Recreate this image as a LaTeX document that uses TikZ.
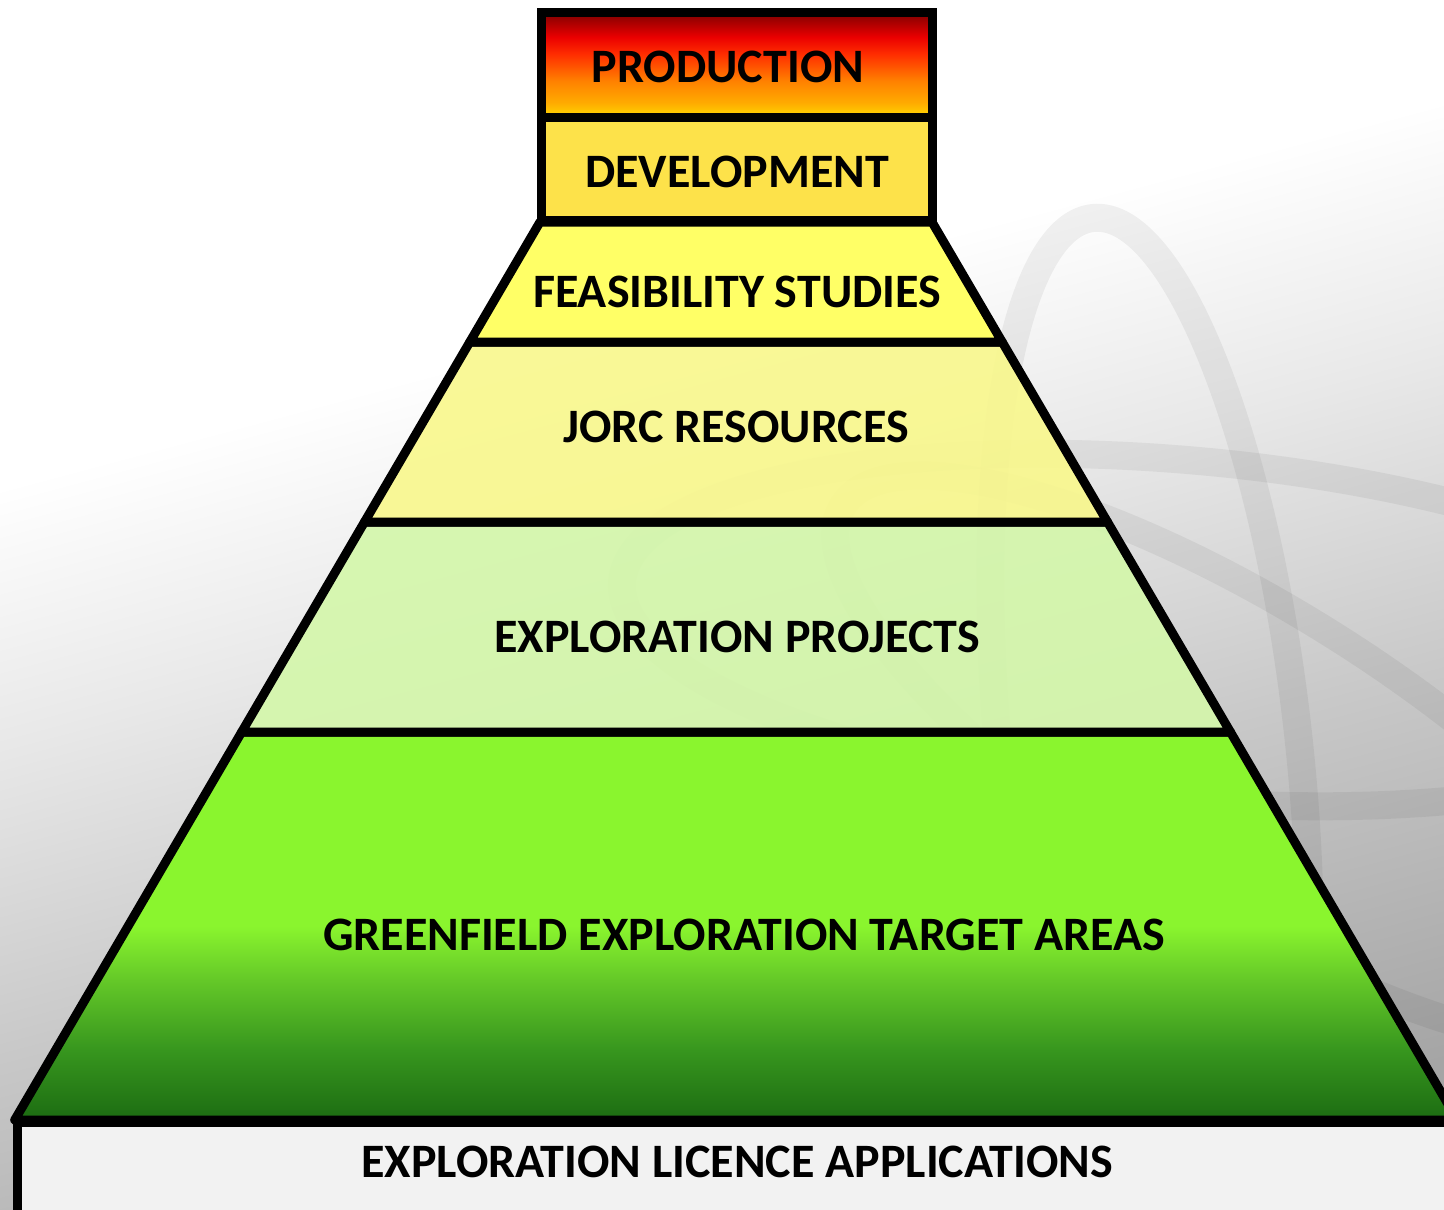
\documentclass[tikz,border=0pt]{standalone}
\usepackage{fontspec}
\setmainfont{Carlito}
\definecolor{devY}{RGB}{253,226,74}
\definecolor{feasY}{RGB}{255,255,102}
\definecolor{jorcY}{RGB}{249,248,140}
\definecolor{projG}{RGB}{212,247,170}
\definecolor{limeG}{RGB}{138,245,46}
\definecolor{midG}{RGB}{100,200,40}
\definecolor{midG2}{RGB}{55,150,30}
\definecolor{darkG}{RGB}{28,108,18}
\definecolor{boxG}{RGB}{242,242,242}
\definecolor{pY}{RGB}{255,215,0}
\definecolor{pY2}{RGB}{255,170,0}
\definecolor{pO}{RGB}{255,130,0}
\definecolor{pO2}{RGB}{255,45,0}
\definecolor{pR}{RGB}{235,0,0}
\definecolor{pDR}{RGB}{125,0,0}
\definecolor{bgA}{RGB}{165,165,165}
\definecolor{bgB}{RGB}{200,200,200}
\definecolor{bgC}{RGB}{232,232,232}
\pgfdeclareverticalshading{prodshade}{100bp}{color(0bp)=(pY); color(25bp)=(pY); color(32bp)=(pY2); color(42bp)=(pO); color(55bp)=(pO2); color(63bp)=(pR); color(75bp)=(pDR); color(100bp)=(pDR)}
\pgfdeclareverticalshading{greenshade}{100bp}{color(0bp)=(darkG); color(25bp)=(darkG); color(34bp)=(midG2); color(43bp)=(midG); color(50bp)=(limeG); color(100bp)=(limeG)}
\pgfdeclareverticalshading{bgshade}{100bp}{color(0bp)=(bgA); color(25bp)=(bgA); color(40bp)=(bgB); color(52bp)=(bgC); color(62bp)=(white); color(100bp)=(white)}
\begin{document}
\begin{tikzpicture}[x=1pt,y=-1pt,
  layer/.style={draw=black, line width=9pt, line join=round},
  wm/.style={draw=black, line width=28pt, draw opacity=0.055},
  lbl/.style={anchor=base, inner sep=0pt, font=\fontsize{48}{50}\selectfont\bfseries, text=black}]
\useasboundingbox (0,0) rectangle (1444,1210);
% background
\shade[shading=bgshade, shading angle=15] (0,0) rectangle (1444,1210);
% watermark orbits
\draw[wm] (1150,760) ellipse [x radius=150, y radius=545, rotate=6];
\draw[wm] (1180,630) ellipse [x radius=560, y radius=170, rotate=-5];
\draw[wm] (1250,760) ellipse [x radius=480, y radius=150, rotate=-32];
% bottom box
\draw[layer, fill=boxG, line join=miter] (17,1122) rectangle (1480,1215);
% pyramid layers
\shade[shading=greenshade] (241.7,732) -- (1230.4,732) -- (1457.3,1120) -- (14.7,1120) -- cycle;
\draw[layer] (241.7,732) -- (1230.4,732) -- (1457.3,1120) -- (14.7,1120) -- cycle;
\draw[layer, fill=projG, fill opacity=0.9] (364.5,522) -- (1107.5,522) -- (1230.4,732) -- (241.7,732) -- cycle;
\draw[layer, fill=jorcY, fill opacity=0.9] (469.8,342) -- (1002.2,342) -- (1107.5,522) -- (364.5,522) -- cycle;
\draw[layer, fill=feasY] (540,222) -- (932,222) -- (1002.2,342) -- (469.8,342) -- cycle;
% top box
\draw[layer, fill=devY, line join=miter] (541,117) rectangle (932,220);
\shade[shading=prodshade] (541,12) rectangle (932,117);
\draw[layer, line join=miter] (541,12) rectangle (932,117);
% labels
\node[lbl] (prod) at (728,82) {PRODUCTION};
\node[lbl] (dev) at (737,187) {DEVELOPMENT};
\node[lbl] (feas) at (737,307) {FEASIBILITY STUDIES};
\node[lbl] (jorc) at (736,442) {JORC RESOURCES};
\node[lbl] (proj) at (737,652) {EXPLORATION PROJECTS};
\node[lbl] (green) at (744,950) {GREENFIELD EXPLORATION TARGET AREAS};
\node[lbl] (ela) at (737,1177) {EXPLORATION LICENCE APPLICATIONS};
\end{tikzpicture}
\end{document}
